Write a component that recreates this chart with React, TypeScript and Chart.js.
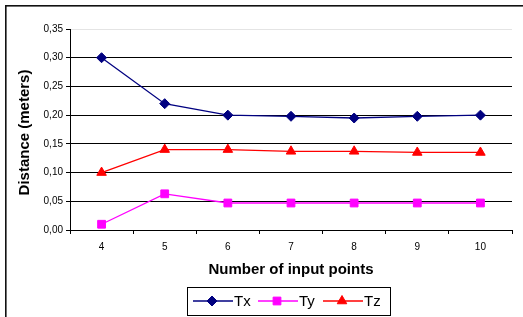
import React, { useEffect, useRef } from 'react';
import { Chart, registerables } from 'chart.js';
import { drawPoint } from 'chart.js/helpers';

Chart.register(...registerables);

const categories = ['4', '5', '6', '7', '8', '9', '10'];
const txValues = [0.3, 0.22, 0.2, 0.198, 0.195, 0.198, 0.2];
const tyValues = [0.01, 0.063, 0.047, 0.047, 0.047, 0.047, 0.047];
const tzValues = [0.1, 0.14, 0.14, 0.137, 0.137, 0.135, 0.135];
const yTickLabels = ['0,00', '0,05', '0,10', '0,15', '0,20', '0,25', '0,30', '0,35'];
const seriesNames = ['Tx', 'Ty', 'Tz'];
const xTitle = 'Number of input points';
const yTitle = 'Distance (meters)';

const FONT = '"Liberation Sans", Arial, sans-serif';

const decorPlugin = {
  id: 'decor',
  afterDraw(chart: any) {
    const ctx = chart.ctx as CanvasRenderingContext2D;
    const area = chart.chartArea;
    ctx.save();
    // outer frame (top and left visible)
    ctx.fillStyle = '#111';
    ctx.fillRect(5, 5, 518, 1.6);
    ctx.fillRect(5, 5, 1.6, 312);

    // axis titles
    ctx.fillStyle = '#000';
    ctx.font = `bold 15px ${FONT}`;
    ctx.textAlign = 'center';
    ctx.textBaseline = 'middle';
    ctx.fillText(xTitle, (area.left + area.right) / 2, 270);
    ctx.save();
    ctx.translate(25, (area.top + area.bottom) / 2 + 3);
    ctx.rotate(-Math.PI / 2);
    ctx.fillText(yTitle, 0, 0);
    ctx.restore();

    // legend
    const boxX = 187.5, boxY = 287.5, boxW = 203, boxH = 28;
    ctx.strokeStyle = '#000';
    ctx.lineWidth = 1;
    ctx.strokeRect(boxX, boxY, boxW, boxH);
    const starts = [193, 258, 323];
    const cy = 301;
    ctx.font = `15px ${FONT}`;
    ctx.textAlign = 'left';
    chart.data.datasets.forEach((ds: any, i: number) => {
      const x0 = starts[i];
      ctx.strokeStyle = ds.borderColor;
      ctx.lineWidth = 1.3;
      ctx.beginPath();
      ctx.moveTo(x0, cy);
      ctx.lineTo(x0 + 40, cy);
      ctx.stroke();
      ctx.fillStyle = ds.backgroundColor;
      ctx.strokeStyle = ds.borderColor;
      ctx.lineWidth = 1;
      drawPoint(ctx, { pointStyle: ds.pointStyle, radius: ds.pointRadius, rotation: 0, borderWidth: 1 }, x0 + 19, cy);
      ctx.fillStyle = '#000';
      ctx.fillText(seriesNames[i], x0 + 41, cy + 1);
    });
    ctx.restore();
  },
};

export default function App() {
  const ref = useRef<HTMLCanvasElement | null>(null);
  useEffect(() => {
    document.body.style.margin = '0';
    if (!ref.current) return;
    const chart = new Chart(ref.current, {
      type: 'line',
      data: {
        labels: categories,
        datasets: [
          {
            label: seriesNames[0],
            data: txValues,
            borderColor: '#000080',
            backgroundColor: '#000080',
            pointStyle: 'rectRot',
            pointRadius: 5,
            pointBorderWidth: 1,
            borderWidth: 1.3,
            tension: 0,
            clip: false,
          },
          {
            label: seriesNames[1],
            data: tyValues,
            borderColor: '#FF00FF',
            backgroundColor: '#FF00FF',
            pointStyle: 'rect',
            pointRadius: 5.5,
            pointBorderWidth: 1,
            borderWidth: 1.3,
            tension: 0,
            clip: false,
          },
          {
            label: seriesNames[2],
            data: tzValues,
            borderColor: '#FF0000',
            backgroundColor: '#FF0000',
            pointStyle: 'triangle',
            pointRadius: 5.5,
            pointBorderWidth: 1,
            borderWidth: 1.3,
            tension: 0,
            clip: false,
          },
        ] as any,
      },
      options: {
        responsive: false,
        animation: false,
        devicePixelRatio: 1,
        layout: { padding: { left: 0, top: 29, right: 11, bottom: 0 } },
        plugins: { legend: { display: false }, tooltip: { enabled: false }, title: { display: false } },
        scales: {
          x: {
            type: 'category',
            offset: true,
            grid: {
              display: true,
              offset: true,
              drawOnChartArea: false,
              drawTicks: true,
              tickLength: 4,
              color: '#000',
              lineWidth: 1,
            },
            border: { display: true, color: '#000', width: 1 },
            ticks: { color: '#000', font: { family: FONT, size: 10 }, padding: 7, maxRotation: 0 },
            afterFit: (s: any) => {
              s.height = 87;
            },
          },
          y: {
            min: 0,
            max: 0.35,
            ticks: {
              stepSize: 0.05,
              color: '#000',
              font: { family: FONT, size: 10 },
              padding: 3,
              callback: (_v: any, i: number) => yTickLabels[i],
            },
            grid: {
              color: (c: any) => (c.tick && c.tick.value > 0.349 ? '#e4e4e4' : '#000'),
              tickColor: '#000',
              tickLength: 4,
              lineWidth: 1,
            },
            border: { display: true, color: '#000', width: 1 },
            afterFit: (s: any) => {
              s.width = 70;
            },
          },
        },
      } as any,
      plugins: [decorPlugin],
    });
    return () => chart.destroy();
  }, []);
  return (
    <div style={{ position: 'absolute', left: 0, top: 0, width: 523, height: 317, background: '#fff' }}>
      <canvas ref={ref} width={523} height={317} style={{ display: 'block' }} />
    </div>
  );
}
